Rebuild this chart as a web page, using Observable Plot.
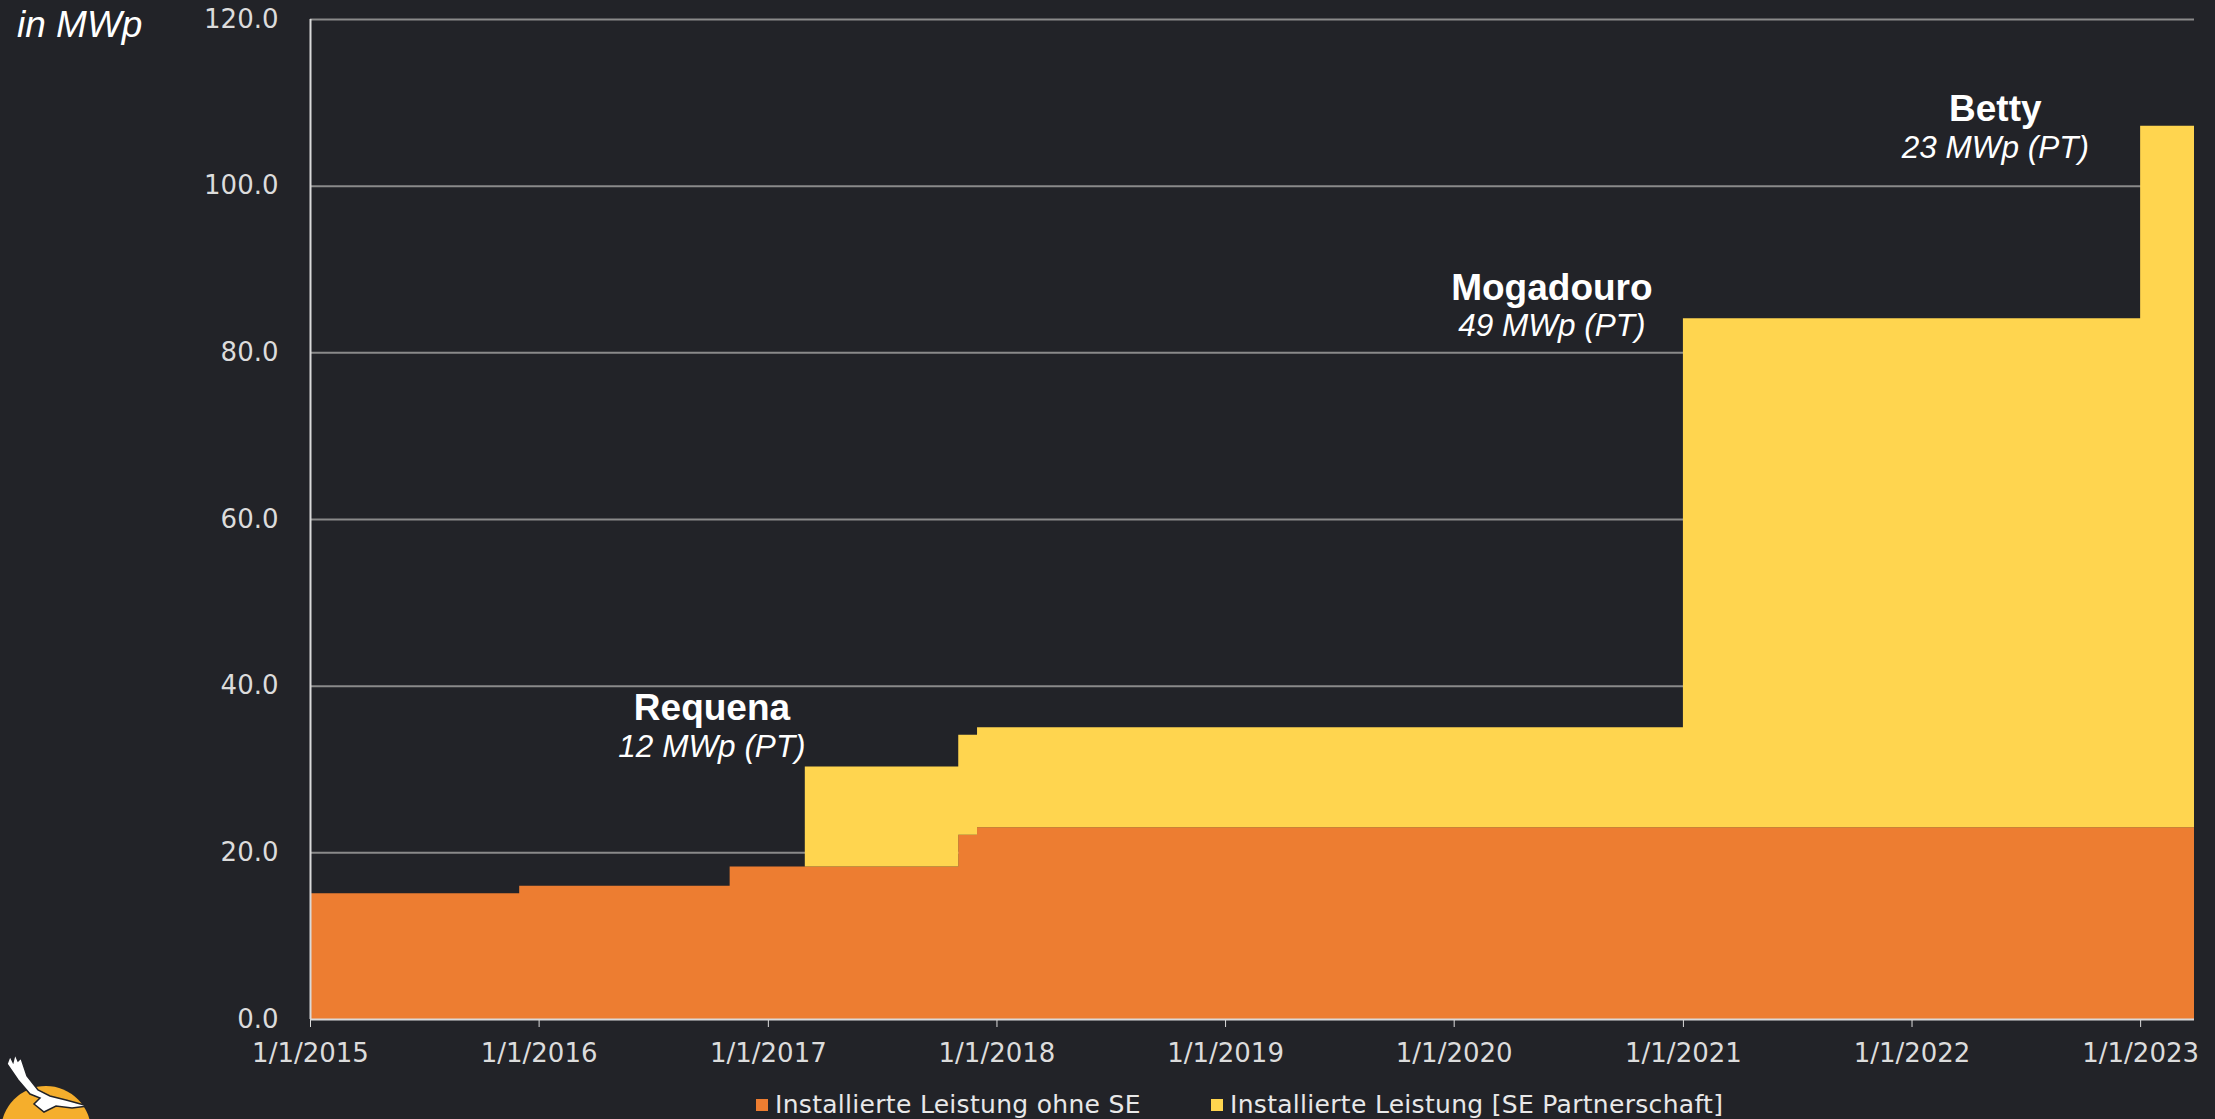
<!DOCTYPE html>
<html><head><meta charset="utf-8">
<script src="https://cdn.jsdelivr.net/npm/d3@7"></script>
<script src="https://cdn.jsdelivr.net/npm/@observablehq/plot@0.6"></script>
<style>
html,body{margin:0;padding:0;background:#222328;width:2215px;height:1119px;overflow:hidden;}
#chart{position:absolute;left:0;top:0;}
.unit{position:absolute;left:17px;top:6px;font:italic 37px "Liberation Sans",Arial,sans-serif;line-height:1;color:#ffffff;white-space:nowrap;}
.item{position:absolute;top:1092px;display:flex;align-items:center;font:25px "DejaVu Sans",Verdana,sans-serif;line-height:1;color:#e8e8e8;letter-spacing:0.3px;white-space:nowrap;}
.sw{width:12px;height:12px;margin-right:7px;}
#logo{position:absolute;left:0;top:1040px;}
</style></head><body>
<div id="chart"></div>
<div class="unit">in MWp</div>
<div id="legend"></div>
<svg id="logo" width="110" height="79" viewBox="0 0 110 79">
  <circle cx="46" cy="91" r="45" fill="#F5AE2C"/>
  <path d="M7,24 L10,16 L13,22 L15,14 L18,21 L21,18 L27,36 L38,50 L50,56 L66,60 L88,66 L72,68 L56,66 L44,72 L34,64 L40,58 L30,54 L18,40 Z" fill="#ffffff" stroke="#222328" stroke-width="1.5"/>
</svg>
<script>
// step dates and values (MWp)
const dates = ["2015-01-01","2015-12-01","2016-11-01","2017-03-01","2017-11-01","2017-12-01","2021-01-01","2023-01-01","2023-03-28"];
const ohneSE = [15.1, 16.0, 18.3, 18.3, 22.1, 23.0, 23.0, 23.0, 23.0];
const partnerschaft = [0, 0, 0, 12.0, 12.0, 12.0, 61.1, 84.2, 84.2];
const seriesNames = ["Installierte Leistung ohne SE", "Installierte Leistung [SE Partnerschaft]"];
const seriesColors = ["#ED7D31", "#FFD54F"];
const xTickDates = ["2015-01-01","2016-01-01","2017-01-01","2018-01-01","2019-01-01","2020-01-01","2021-01-01","2022-01-01","2023-01-01"];
const yTicks = [0, 20, 40, 60, 80, 100, 120];
// annotations (anchored in data units)
const annoNames = ["Requena", "Mogadouro", "Betty"];
const annoCaptions = ["12 MWp (PT)", "49 MWp (PT)", "23 MWp (PT)"];
const annoDates = ["2016-10-03", "2020-06-05", "2022-05-14"];
const annoNameY = [37.4, 87.8, 109.2];
const annoCaptionY = [32.7, 83.2, 104.6];

const seriesValues = [ohneSE, partnerschaft];
const rows = [];
seriesNames.forEach((s, si) => {
  dates.forEach((d, i) => rows.push({date: new Date(d), value: seriesValues[si][i], series: s}));
});
const x0 = new Date(dates[0]);
const x1 = new Date(dates[dates.length - 1]);
const ai = annoNames.map((_, i) => i);

const chart = Plot.plot({
  width: 2215, height: 1075,
  marginLeft: 310, marginRight: 21, marginTop: 19, marginBottom: 56,
  style: {background: "transparent", color: "#dcdcdc", fontFamily: "'DejaVu Sans', Verdana, sans-serif", fontSize: "26px"},
  x: {type: "utc", domain: [x0, x1], ticks: xTickDates.map(d => new Date(d)),
      tickFormat: d => `${d.getUTCMonth() + 1}/${d.getUTCDate()}/${d.getUTCFullYear()}`,
      tickSize: 8, tickPadding: 16, label: null},
  y: {domain: [0, 120], ticks: yTicks, tickFormat: d3.format(".1f"), tickSize: 0, tickPadding: 32, label: null},
  color: {domain: seriesNames, range: seriesColors},
  marks: [
    Plot.ruleY(yTicks.filter(v => v > 0), {stroke: "#8a8a8a", strokeWidth: 2}),
    Plot.areaY(rows, {x: "date", y: "value", fill: "series", z: "series", curve: "step-after"}),
    Plot.ruleY([0], {stroke: "#d9d9d9", strokeWidth: 2}),
    Plot.ruleX([x0], {y1: 0, y2: 120, stroke: "#d9d9d9", strokeWidth: 2}),
    Plot.text(ai, {x: i => new Date(annoDates[i]), y: i => annoNameY[i], text: i => annoNames[i],
      fill: "#ffffff", fontSize: 37, fontWeight: "bold", fontFamily: "'Liberation Sans', Arial, sans-serif", textAnchor: "middle", lineAnchor: "middle"}),
    Plot.text(ai, {x: i => new Date(annoDates[i]), y: i => annoCaptionY[i], text: i => annoCaptions[i],
      fill: "#ffffff", fontSize: 31.5, fontStyle: "italic", fontFamily: "'Liberation Sans', Arial, sans-serif", textAnchor: "middle", lineAnchor: "middle"})
  ]
});
document.getElementById("chart").appendChild(chart);

const legendLefts = [756, 1211];
const legend = document.getElementById("legend");
seriesNames.forEach((s, i) => {
  const item = document.createElement("div");
  item.className = "item";
  item.style.left = legendLefts[i] + "px";
  const sw = document.createElement("span");
  sw.className = "sw";
  sw.style.background = seriesColors[i];
  item.appendChild(sw);
  item.appendChild(document.createTextNode(s));
  legend.appendChild(item);
});
</script>
</body></html>
